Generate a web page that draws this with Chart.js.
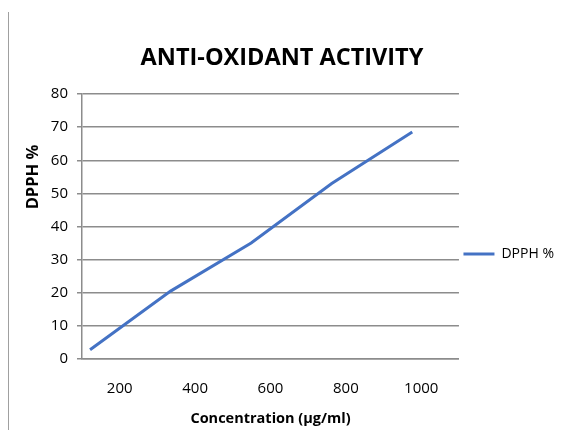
<!DOCTYPE html>
<html>
<head>
<meta charset="utf-8">
<script src="https://cdn.jsdelivr.net/npm/chart.js@4/dist/chart.umd.min.js"></script>
<style>
    html, body { margin: 0; padding: 0; background: white; }
    #wrap { position: relative; width: 564px; height: 430px; }
    #wrap:before { content: ''; position: absolute; left: 8px; top: 12px; bottom: 0; border-left: 1px solid #a0a0a0; }
</style>
</head>
<body>
<div id="wrap"><canvas id="chartCanvas" width="564" height="430"></canvas></div>
<script>
    // data
    const concentrations = [200, 400, 600, 800, 1000]
    const concentrationLabels = ['200', '400', '600', '800', '1000']
    const dpphValues = [2.8, 20.5, 35, 53, 68.5]

    const FONT = `"Open Sans", sans-serif`

    // y axis title sits a bit above the axis middle in the original
    const yTitlePlugin = {
        id: 'yTitle',
        afterDraw(chart) {
            const ctx = chart.ctx
            ctx.save()
            ctx.translate(33, 177)
            ctx.rotate(-Math.PI / 2)
            ctx.font = `bold 16.5px ${FONT}`
            ctx.fillStyle = '#000'
            ctx.textAlign = 'center'
            ctx.textBaseline = 'middle'
            ctx.fillText('DPPH %', 0, 0)
            ctx.restore()
        }
    }

    new Chart(document.getElementById('chartCanvas'), {
        type: 'line',
        data: {
            labels: concentrationLabels,
            datasets: [{
                label: 'DPPH %',
                data: concentrations.map((c, i) => ({ x: c, y: dpphValues[i] })),
                xAxisID: 'xData',
                borderColor: '#4472c4',
                backgroundColor: '#4472c4',
                borderWidth: 3,
                pointRadius: 0,
                tension: 0
            }]
        },
        options: {
            responsive: false,
            animation: false,
            layout: { padding: { left: 0, right: 0, top: 0, bottom: 0 } },
            plugins: {
                title: {
                    display: true,
                    text: 'ANTI-OXIDANT ACTIVITY',
                    color: '#000',
                    font: { family: FONT, size: 23.5, weight: 'bold' },
                    padding: { top: 44, bottom: 21.8 }
                },
                legend: {
                    position: 'right',
                    title: { display: true, text: ' ', font: { size: 10 }, padding: { top: 66, bottom: 0 } },
                    labels: {
                        color: '#000',
                        font: { family: FONT, size: 14 },
                        usePointStyle: true,
                        pointStyle: 'line',
                        pointStyleWidth: 31,
                        padding: 4.5
                    }
                },
                tooltip: { enabled: false }
            },
            scales: {
                x: {
                    type: 'category',
                    offset: true,
                    grid: { display: false, drawTicks: false },
                    border: { display: true, color: '#8c8c8c', width: 1.5 },
                    ticks: { color: '#000', font: { family: FONT, size: 15 }, padding: 21 },
                    title: {
                        display: true,
                        text: 'Concentration (µg/ml)',
                        color: '#000',
                        font: { family: FONT, size: 14.5, weight: 'bold' },
                        padding: { top: 0, bottom: 2 }
                    },
                    afterFit(scale) { scale.height = 71 }
                },
                xData: {
                    type: 'linear',
                    display: false,
                    min: 180,
                    max: 1116
                },
                y: {
                    min: 0,
                    max: 80,
                    ticks: { stepSize: 10, color: '#000', font: { family: FONT, size: 15 }, padding: 9 },
                    grid: { color: '#8c8c8c', lineWidth: 1.5, tickLength: 5 },
                    border: { display: true, color: '#8c8c8c', width: 1.5 },
                    afterFit(scale) { scale.width = 82 }
                }
            }
        },
        plugins: [yTitlePlugin]
    })
</script>
</body>
</html>
